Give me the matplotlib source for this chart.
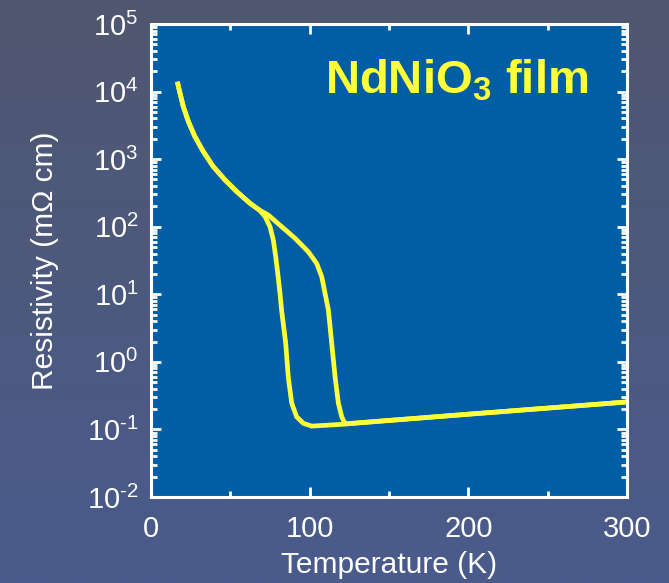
import numpy as np
import matplotlib
matplotlib.use('agg')
import matplotlib.pyplot as plt
from matplotlib import ticker

plt.rcParams['font.family'] = ['Liberation Sans', 'DejaVu Sans']
plt.rcParams['mathtext.fontset'] = 'custom'
plt.rcParams['mathtext.rm'] = 'Liberation Sans'
plt.rcParams['mathtext.bf'] = 'Liberation Sans:bold'

# shared low temperature part (K, mOhm cm)
temp_low = [16.6, 18.3, 20.4, 23.6, 27.7, 33.0, 39.3, 46.7, 54.1, 62.4, 68.5]
rho_low = [14000, 9420, 5970, 3580, 2150, 1290, 773, 491, 330, 222, 175]

# cooling run: metal-insulator transition near 85 K
temp_cool = [300, 200, 127.5, 120.2, 109.7, 101.3, 96.0, 91.8, 88.7, 86.5, 84.9,
             82.3, 81.3, 79.9, 78.6, 77.1, 75.0, 71.9]
rho_cool = [0.255, 0.168, 0.123, 0.119, 0.115, 0.112, 0.123, 0.154, 0.244, 0.603, 1.88,
            5.85, 10.3, 20.4, 36.0, 63.5, 100, 141]

# warming run: transition shifted up to ~117 K
temp_warm = [73.9, 82.4, 90.8, 99.1, 104.4, 107.6, 109.7, 111.8, 113.9, 116.0, 118.1,
             120.2, 122.3, 200, 300]
rho_warm = [149, 100, 67.4, 42.7, 28.7, 18.2, 10.3, 5.85, 1.88, 0.603, 0.244,
            0.154, 0.121, 0.168, 0.255]

yellow = '#ffff3a'
W, H = 669, 583
fig = plt.figure(figsize=(W / 100, H / 100), dpi=100)

# slide-style vertical gradient behind everything
bg = fig.add_axes([0, 0, 1, 1], zorder=-10)
top_c = np.array([80, 87, 112]) / 255
bot_c = np.array([74, 91, 140]) / 255
frac = np.linspace(0, 1, 256)[:, None, None]
grad = top_c * (1 - frac) + bot_c * frac
bg.imshow(np.repeat(grad, 2, axis=1), aspect='auto', extent=[0, 1, 0, 1])
bg.axis('off')

ax = fig.add_axes([151 / W, 1 - 497 / H, 476 / W, 473 / H])
ax.set_facecolor('#025ea4')

T_c = temp_cool + temp_low[::-1]
R_c = rho_cool + rho_low[::-1]
T_w = temp_low + temp_warm
R_w = rho_low + rho_warm
for T, R in ((T_c, R_c), (T_w, R_w)):
    ax.plot(T, R, color=yellow, lw=3.4, solid_joinstyle='round', solid_capstyle='butt')


def decade_label(v, pos):
    e = int(round(np.log10(v)))
    exp = r'\text{-}%d' % -e if e < 0 else '%d' % e
    return r'$\mathregular{10^{%s}}$' % exp


ax.set_yscale('log')
ax.set_xlim(0, 300)
ax.set_ylim(1e-2, 1e5)
ax.xaxis.set_major_locator(ticker.MultipleLocator(100))
ax.xaxis.set_minor_locator(ticker.MultipleLocator(50))
ax.yaxis.set_major_locator(ticker.LogLocator(base=10, numticks=20))
ax.yaxis.set_major_formatter(ticker.FuncFormatter(decade_label))
ax.yaxis.set_minor_locator(ticker.LogLocator(base=10, subs=np.arange(2, 10), numticks=20))
ax.yaxis.set_minor_formatter(ticker.NullFormatter())

for s in ax.spines.values():
    s.set_color('white')
    s.set_linewidth(2.2)
ax.tick_params(which='both', direction='in', colors='white', top=True, right=True, width=2)
ax.tick_params(which='major', length=7.5, labelsize=21)
ax.tick_params(which='minor', length=4.5)
ax.tick_params(axis='x', which='major', pad=13)
ax.tick_params(axis='y', which='major', pad=9)

ax.set_xlabel('Temperature (K)', fontsize=21.5, color='white', labelpad=6)
ax.set_ylabel('Resistivity (m\u03a9 cm)', fontsize=21.5, color='white', labelpad=20)

ax.text(0.918, 0.854, r'NdNiO$_\mathbf{3}$ film', transform=ax.transAxes,
        ha='right', va='baseline', fontsize=34, fontweight='bold', color=yellow)

fig.savefig('out.png', dpi=100)
